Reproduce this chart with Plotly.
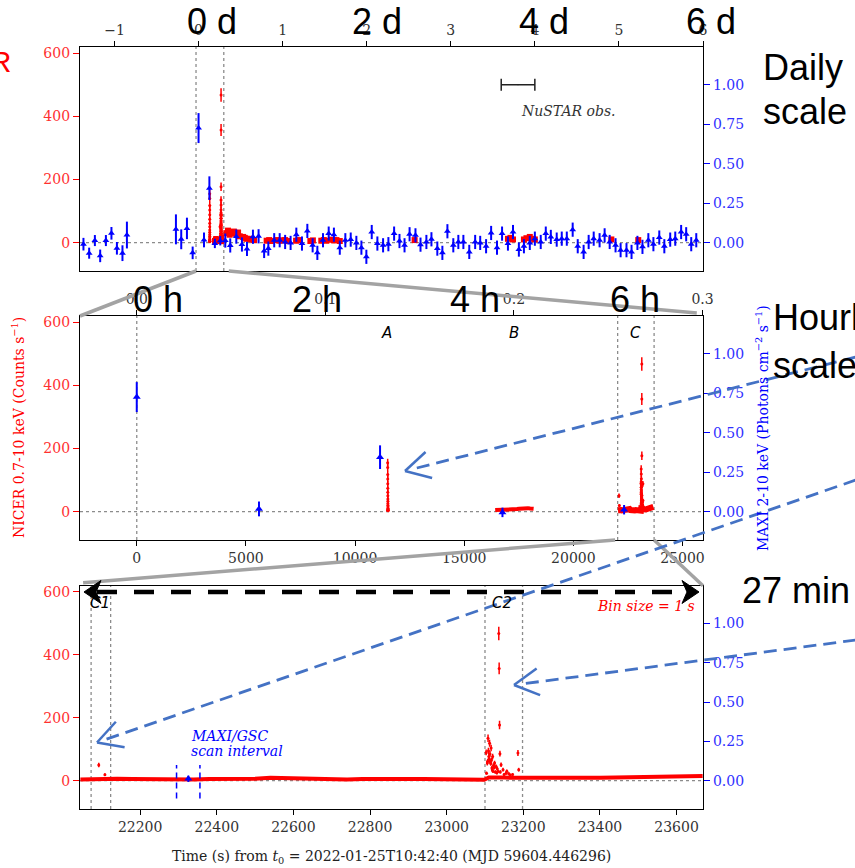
import math
import plotly.graph_objects as go

DAY = 86400.0

# ---------------- data ----------------
# MAXI/GSC 2-10 keV, time in days from t0, flux in photons cm^-2 s^-1
maxi_day = [-1.369, -1.301, -1.233, -1.170, -1.102, -1.036, -0.971, -0.905, -0.852,
            -0.269, -0.206, -0.138, -0.070, 0.000, 0.0648, 0.1290, 0.1939, 0.2584,
            0.318, 0.377, 0.449, 0.516, 0.576, 0.647, 0.714,
            0.78, 0.83, 0.90, 0.965, 1.03, 1.095, 1.163, 1.23, 1.294, 1.357,
            1.413, 1.48, 1.548, 1.61, 1.68, 1.746, 1.81, 1.877, 1.937, 1.996,
            2.06, 2.127, 2.195, 2.258, 2.326, 2.39,
            2.45, 2.51, 2.58, 2.64, 2.71, 2.77, 2.84, 2.90, 2.96, 3.03,
            3.09, 3.15, 3.22, 3.29, 3.35, 3.42, 3.48, 3.55, 3.61, 3.68,
            3.74, 3.81, 3.87, 3.94, 4.00, 4.07, 4.13, 4.19, 4.26, 4.32,
            4.38, 4.45, 4.51, 4.58, 4.64, 4.70, 4.77, 4.83, 4.89, 4.96,
            5.02, 5.09, 5.15, 5.22, 5.28, 5.35, 5.41, 5.48, 5.54, 5.61,
            5.67, 5.74, 5.80, 5.86, 5.92]
maxi_flux = [-0.010, -0.067, 0.013, -0.084, 0.013, 0.059, -0.036, -0.067, 0.048,
             0.084, 0.021, 0.090, -0.065, 0.726, 0.017, 0.345, -0.005, 0.012,
             0.013, -0.018, 0.038, -0.012, -0.040, 0.037, 0.040,
             -0.053, -0.038, 0.015, 0.015, 0.004, -0.002, 0.050, -0.006, 0.074, -0.017,
             -0.065, 0.015, 0.057, 0.050, -0.032, 0.015, 0.019, -0.002, -0.032, -0.090,
             0.067, -0.006, -0.017, -0.010, 0.057, 0.010,
             -0.017, 0.053, 0.046, -0.013, 0.004, 0.021, -0.038, -0.065, 0.072, -0.017,
             0.004, 0.004, -0.059, 0.004, -0.002, -0.023, 0.061, -0.032, 0.057, -0.006,
             0.067, -0.044, -0.023, -0.002, 0.025, 0.004, 0.057, 0.036, 0.019, 0.025,
             0.025, 0.082, -0.023, -0.059, 0.004, 0.025, 0.015, 0.046, 0.004, -0.017,
             -0.048, -0.048, -0.059, -0.002, -0.027, 0.015, -0.010, 0.032, -0.023, 0.019,
             0.025, 0.067, 0.053, -0.010, 0.015]
maxi_err = [0.040, 0.035, 0.035, 0.040, 0.035, 0.040, 0.040, 0.050, 0.085,
            0.095, 0.063, 0.068, 0.040, 0.095, 0.047, 0.075, 0.030, 0.030,
            0.045, 0.045, 0.045, 0.045, 0.045, 0.045, 0.045,
            0.045, 0.045, 0.045, 0.045, 0.045, 0.045, 0.045, 0.045, 0.045, 0.045,
            0.045, 0.045, 0.045, 0.045, 0.045, 0.045, 0.045, 0.045, 0.045, 0.045,
            0.045, 0.045, 0.045, 0.045, 0.045, 0.045,
            0.045, 0.045, 0.045, 0.045, 0.045, 0.045, 0.045, 0.045, 0.045, 0.045,
            0.045, 0.045, 0.045, 0.045, 0.045, 0.045, 0.045, 0.045, 0.045, 0.045,
            0.045, 0.045, 0.045, 0.045, 0.045, 0.045, 0.045, 0.045, 0.045, 0.045,
            0.045, 0.045, 0.045, 0.045, 0.045, 0.045, 0.045, 0.045, 0.045, 0.045,
            0.045, 0.045, 0.045, 0.045, 0.045, 0.045, 0.045, 0.045, 0.045, 0.045,
            0.045, 0.045, 0.045, 0.045, 0.045]
maxi_scan_err = 0.02

# NICER 0.7-10 keV, later GTIs (days, counts/s)
nicer_gti_day = [0.33, 0.35, 0.37, 0.40, 0.42, 0.44, 0.47, 0.49,
                 0.53, 0.55, 0.57, 0.61, 0.63, 0.66, 0.81, 0.84, 0.86,
                 0.93, 0.96, 0.99, 1.03, 1.06, 1.16, 1.19, 1.33, 1.36,
                 1.46, 1.49, 1.52, 1.58, 1.61, 1.64, 1.68, 2.57,
                 3.68, 3.71, 3.74, 3.87, 3.90, 3.94, 3.97, 4.00, 4.91, 5.23]
nicer_gti_rate = [30, 38, 25, 30, 35, 28, 32, 20,
                  18, 15, 12, 12, 10, 8, 6, 8, 5,
                  8, 6, 7, 8, 5, 6, 8, 5, 7,
                  6, 8, 6, 9, 7, 8, 5, 8,
                  12, 15, 10, 10, 14, 18, 12, 10, 10, 8]

# NICER segment A (1-s bins, s from t0)
a_t = [11494, 11495, 11496, 11497, 11498, 11499, 11500, 11501, 11502, 11503,
       11504, 11505, 11506, 11507, 11508, 11509, 11510, 11511, 11512, 11513]
a_rate = [4, 155, 140, 118, 103, 88, 74, 61, 50, 40,
          33, 26, 20, 15, 11, 8, 6, 5, 4, 3]

# NICER segment B (quiescent level)
b_t = [16420, 16520, 16620, 16720, 16820, 16920, 17020, 17120, 17220, 17320,
       17420, 17520, 17620, 17720, 17820, 17920, 18020, 18120, 18180]
b_rate = [5, 5, 6, 5, 6, 6, 7, 6, 7, 8, 8, 9, 10, 12, 13, 11, 10, 10, 9]

# NICER segment C, quiescent level
c_t = [22044, 22070, 22100, 22140, 22180, 22220, 22260, 22300, 22340, 22380,
       22420, 22460, 22500, 22540, 22580, 22620, 22660, 22700, 22740, 22780,
       22820, 22860, 22900, 22940, 22980, 23020, 23060, 23098, 23110, 23130,
       23150, 23170, 23200, 23240, 23280, 23320, 23360, 23400, 23440, 23480,
       23520, 23560, 23600, 23640, 23668]
c_rate = [4, 5, 6, 6, 5, 4, 5, 4, 4, 5,
          5, 6, 6, 9, 8, 5, 4, 5, 4, 5,
          4, 5, 5, 5, 4, 5, 4, 3, 10, 11,
          10, 9, 9, 8, 6, 7, 8, 9, 10, 11,
          14, 13, 14, 15, 15]

# NICER segment C, flare bins (1-s)
cf_t = [22092, 22108, 23103, 23104, 23106, 23107, 23108, 23109, 23110, 23111,
        23112, 23113, 23114, 23115, 23116, 23117, 23118, 23119, 23120, 23121,
        23122, 23124, 23125, 23127, 23129, 23131, 23132, 23134, 23136, 23137,
        23138, 23139, 23140, 23142, 23147, 23150, 23155, 23157, 23162, 23166,
        23172, 23186, 23188]
cf_rate = [50, 19, 90, 24, 56, 62, 135, 95, 77, 70,
           119, 85, 60, 55, 104, 66, 40, 35, 77, 30,
           48, 42, 56, 28, 45, 25, 38, 30, 468, 357,
           177, 86, 28, 51, 35, 20, 24, 30, 22, 18,
           20, 88, 35]

# intervals / ranges
mid_range = [-2600, 25940]
bot_range = [22043, 23669]
c_interval = [22030, 23700]
c1_interval = [22072, 22123]
c2_interval = [23100, 23198]
maxi_scan = [22295, 22356]
nustar = [3.60, 4.00]
nustar_level = 1.0

top_range = [-1.41, 6.0]
nicer_range = [-90, 620]
maxi_range = [-0.18, 1.24]

day_ticks = [-1, 0, 1, 2, 3, 4, 5, 6]
day_ticktext = ['\u22121', '0', '1', '2', '3', '4', '5', '6']
hour_day_ticks = [0.0, 0.1, 0.2, 0.3]
mid_ticks = [0, 5000, 10000, 15000, 20000, 25000]
bot_ticks = [22200, 22400, 22600, 22800, 23000, 23200, 23400, 23600]
nicer_ticks = [0, 200, 400, 600]
maxi_ticks = [0, 0.25, 0.5, 0.75, 1.0]

# ---------------- geometry helpers ----------------
W, H = 855, 868
L, R, T, B = 80, 703, 47, 809


def px(x):
    return (x - L) / (R - L)


def py(y):
    return (B - y) / (B - T)


top_dom = [py(271), 1.0]
mid_dom = [py(540), py(316)]
bot_dom = [0.0, py(585.7)]


def dx(v, rng):
    return (v - rng[0]) / (rng[1] - rng[0])


def dy(v, rng, dom):
    return dom[0] + (v - rng[0]) / (rng[1] - rng[0]) * (dom[1] - dom[0])


RED = '#ff0000'
BLUE = '#0000ff'
SERIF = 'DejaVu Serif'
SANS = 'Liberation Sans'

fig = go.Figure()


def err(vals):
    return [math.sqrt(v) for v in vals]


def red_pts(x, y, xa, ya, size=3, e=None, symbol='circle', thick=1.5):
    d = dict(x=x, y=y, xaxis=xa, yaxis=ya, mode='markers', showlegend=False,
             hoverinfo='skip', marker=dict(color=RED, size=size, symbol=symbol, line=dict(width=0)))
    if e is not None:
        d['error_y'] = dict(type='data', array=e, visible=True, color=RED, thickness=thick, width=0)
    fig.add_trace(go.Scatter(**d))


def red_line(x, y, xa, ya, w):
    fig.add_trace(go.Scatter(x=x, y=y, xaxis=xa, yaxis=ya, mode='lines', showlegend=False,
                             hoverinfo='skip', line=dict(color=RED, width=w)))


def blue_pts(x, y, e, xa, ya, size=6):
    fig.add_trace(go.Scatter(x=x, y=y, xaxis=xa, yaxis=ya, mode='markers', showlegend=False,
                             hoverinfo='skip',
                             marker=dict(color=BLUE, size=size, symbol='triangle-up', line=dict(width=0)),
                             error_y=dict(type='data', array=e, visible=True, color=BLUE,
                                          thickness=2, width=0)))


# ---------------- top panel (days) ----------------
red_pts(nicer_gti_day, nicer_gti_rate, 'x', 'y', size=6, symbol='square')
red_pts([t / DAY for t in b_t], b_rate, 'x', 'y', size=5, symbol='square')
red_pts([t / DAY for t in c_t], c_rate, 'x', 'y', size=5, symbol='square')
red_pts([t / DAY for t in a_t], a_rate, 'x', 'y', size=3, e=err(a_rate))
red_pts([t / DAY for t in cf_t], cf_rate, 'x', 'y', size=3, e=err(cf_rate))
blue_pts(maxi_day, maxi_flux, maxi_err, 'x', 'y2', size=6)
# NuSTAR observation bar
fig.add_trace(go.Scatter(x=[(nustar[0] + nustar[1]) / 2], y=[nustar_level], xaxis='x', yaxis='y2',
                         mode='markers', showlegend=False, hoverinfo='skip',
                         marker=dict(size=1, color='#222222'),
                         error_x=dict(type='constant', value=(nustar[1] - nustar[0]) / 2, visible=True,
                                      color='#222222', thickness=1.5, width=6)))

# ---------------- middle panel (seconds) ----------------
red_pts(a_t, a_rate, 'x2', 'y3', size=3, e=err(a_rate))
red_line(b_t, b_rate, 'x2', 'y3', 4)
red_line(c_t, c_rate, 'x2', 'y3', 6)
red_pts(cf_t, cf_rate, 'x2', 'y3', size=3, e=err(cf_rate))
mid_idx = [i for i, d in enumerate(maxi_day) if mid_range[0] <= d * DAY <= mid_range[1]]
blue_pts([maxi_day[i] * DAY for i in mid_idx], [maxi_flux[i] for i in mid_idx],
         [maxi_err[i] for i in mid_idx], 'x2', 'y4', size=7)
# dummy trace for the top (days) axis of the middle panel
fig.add_trace(go.Scatter(x=[mid_range[0] / DAY], y=[None], xaxis='x3', yaxis='y3', mode='markers',
                         showlegend=False, hoverinfo='skip'))

# ---------------- bottom panel (seconds) ----------------
red_line(c_t, c_rate, 'x4', 'y5', 4)
red_pts(cf_t, cf_rate, 'x4', 'y5', size=3, e=err(cf_rate))
bot_idx = [i for i, d in enumerate(maxi_day) if bot_range[0] <= d * DAY <= bot_range[1]]
blue_pts([maxi_day[i] * DAY for i in bot_idx], [maxi_flux[i] for i in bot_idx],
         [maxi_scan_err for i in bot_idx], 'x4', 'y6', size=7)

# ---------------- axes ----------------
tickfont = dict(family=SERIF, size=14, color='#333333')
common_x = dict(showgrid=False, zeroline=False, showline=True, linecolor='black', linewidth=1.3,
                ticks='outside', ticklen=5, tickwidth=1.2, tickcolor='black', tickfont=tickfont)
ly = dict(showgrid=False, zeroline=False, showline=True, linecolor='black', linewidth=1.3,
          ticks='outside', ticklen=6, tickwidth=1.2, tickcolor=RED, range=nicer_range,
          tickvals=nicer_ticks, tickfont=dict(family=SERIF, size=14, color='#ff3030'))
ry = dict(showgrid=False, zeroline=False, showline=True, linecolor='black', linewidth=1.3,
          ticks='outside', ticklen=6, tickwidth=1.2, tickcolor=BLUE, range=maxi_range,
          tickvals=maxi_ticks, tickformat='.2f', side='right',
          tickfont=dict(family=SERIF, size=14, color='#3030ff'))

fig.update_layout(
    xaxis=dict(common_x, domain=[0, 1], anchor='y', side='top', range=top_range, mirror=True,
               tickvals=day_ticks, ticktext=day_ticktext),
    yaxis=dict(ly, domain=top_dom, anchor='x'),
    yaxis2=dict(ry, overlaying='y', anchor='x'),
    xaxis2=dict(common_x, domain=[0, 1], anchor='y3', range=mid_range, mirror=True,
                tickvals=mid_ticks, tickformat='d'),
    xaxis3=dict(common_x, overlaying='x2', anchor='y3', side='top', showline=False,
                range=[mid_range[0] / DAY, mid_range[1] / DAY], tickvals=hour_day_ticks,
                tickformat='.1f'),
    yaxis3=dict(ly, domain=mid_dom, anchor='x2'),
    yaxis4=dict(ry, overlaying='y3', anchor='x2'),
    xaxis4=dict(common_x, domain=[0, 1], anchor='y5', range=bot_range, mirror=True,
                tickvals=bot_ticks, tickformat='d'),
    yaxis5=dict(ly, domain=bot_dom, anchor='x4'),
    yaxis6=dict(ry, overlaying='y5', anchor='x4'),
)

# ---------------- shapes ----------------
shapes = []
DOT = dict(color='#8c8c8c', width=1.3, dash='dot')
for yref in ['y', 'y3', 'y5']:
    shapes.append(dict(type='line', xref='paper', yref=yref, x0=0, x1=1, y0=0, y1=0,
                       line=DOT, layer='below'))
for v in mid_range:
    shapes.append(dict(type='line', xref='x', yref='y domain', x0=v / DAY, x1=v / DAY, y0=0, y1=1,
                       line=DOT, layer='below'))
for v in [0] + c_interval:
    shapes.append(dict(type='line', xref='x2', yref='y3 domain', x0=v, x1=v, y0=0, y1=1,
                       line=DOT, layer='below'))
for v in c1_interval + c2_interval:
    shapes.append(dict(type='line', xref='x4', yref='y5 domain', x0=v, x1=v, y0=0, y1=1,
                       line=DOT, layer='below'))
for v in maxi_scan:
    shapes.append(dict(type='line', xref='x4', yref='y5', x0=v, x1=v, y0=-57, y1=50,
                       line=dict(color=BLUE, width=1.5, dash='6px,4px')))

# zoom connector lines
GRAY = dict(color='#a3a3a3', width=3.5)
shapes.append(dict(type='line', xref='paper', yref='paper',
                   x0=dx(mid_range[0] / DAY, top_range), y0=top_dom[0], x1=0, y1=mid_dom[1], line=GRAY))
shapes.append(dict(type='line', xref='paper', yref='paper',
                   x0=dx(mid_range[1] / DAY, top_range) + 0.008, y0=top_dom[0], x1=0.99, y1=mid_dom[1] + 0.004,
                   line=GRAY))
shapes.append(dict(type='line', xref='paper', yref='paper',
                   x0=dx(c_interval[0], mid_range) - 0.004, y0=mid_dom[0], x1=0.005, y1=bot_dom[1] + 0.004,
                   line=GRAY))
shapes.append(dict(type='line', xref='paper', yref='paper',
                   x0=dx(c_interval[1], mid_range), y0=mid_dom[0], x1=1.0, y1=bot_dom[1], line=GRAY))

# black dashed double arrow (27 min span) at the 600 counts/s level of the bottom panel
arr_y = B - (dy(600, nicer_range, bot_dom)) * (B - T)  # pixel y
shapes.append(dict(type='line', xref='paper', yref='y5', x0=px(97), x1=px(686), y0=600, y1=600,
                   line=dict(color='black', width=4.5, dash='20px,17px')))


def path_px(pts):
    s = 'M ' + ' L '.join('%.5f,%.5f' % (px(a), py(b)) for a, b in pts) + ' Z'
    return s


for tip, sgn in [(84, 1), (699, -1)]:
    pts = [(tip, arr_y), (tip + sgn * 17, arr_y - 11.5), (tip + sgn * 12, arr_y),
           (tip + sgn * 17, arr_y + 11.5)]
    shapes.append(dict(type='path', xref='paper', yref='paper', path=path_px(pts),
                       fillcolor='black', line=dict(color='black', width=1)))

# blue dashed pointer arrows (open heads)
ABLUE = '#4472C4'
for tail, tip in [((856, 357), (405, 471)), ((856, 480), (97, 742.5)), ((856, 640), (514, 685))]:
    slope = (tail[1] - tip[1]) / (tail[0] - tip[0])
    shapes.append(dict(type='line', xref='paper', yref='paper', x0=px(tail[0]), y0=py(tail[1]),
                       x1=px(tip[0] + 6), y1=py(tip[1] + 6 * slope),
                       line=dict(color=ABLUE, width=2.8, dash='13px,7px')))
    ang = math.atan2(tail[1] - tip[1], tail[0] - tip[0])
    for da in (-0.5, 0.5):
        a = ang + da
        shapes.append(dict(type='line', xref='paper', yref='paper', x0=px(tip[0]), y0=py(tip[1]),
                           x1=px(tip[0] + 28 * math.cos(a)), y1=py(tip[1] + 28 * math.sin(a)),
                           line=dict(color=ABLUE, width=2.5)))

fig.update_layout(shapes=shapes)

# ---------------- annotations ----------------
ann = []


def txt(text, x, y, size, color='black', family=SANS, xanchor='left', yanchor='middle', angle=0):
    ann.append(dict(text=text, x=px(x), y=py(y), xref='paper', yref='paper', showarrow=False,
                    xanchor=xanchor, yanchor=yanchor, textangle=angle,
                    font=dict(size=size, color=color, family=family)))


for s, x in [('0 d', 185), ('2 d', 350), ('4 d', 517), ('6 d', 684)]:
    txt(s, x, 22, 36)
for s, x in [('0 h', 131), ('2 h', 290), ('4 h', 448), ('6 h', 608)]:
    txt(s, x, 299, 36)
txt('Daily', 761, 67, 36)
txt('scale', 761, 111, 36)
txt('Hourly', 771, 317, 36)
txt('scale', 771, 366, 36)
txt('27 min', 740, 590, 36)
txt('NICER', 13, 62, 30, color=RED, xanchor='right')

txt('<i>NuSTAR obs.</i>', 568, 111, 14, color='#333333', family=SERIF, xanchor='center')
for s, t in [('A', 11457), ('B', 17291), ('C', 22868)]:
    ann.append(dict(text='<i>%s</i>' % s, x=t, y=567, xref='x2', yref='y3', showarrow=False,
                    xanchor='center', yanchor='middle', font=dict(size=15, color='black', family='DejaVu Sans')))
txt('<i>C1</i>', 100, 603, 15, family='DejaVu Sans', xanchor='center')
txt('<i>C2</i>', 502, 603, 15, family='DejaVu Sans', xanchor='center')
txt('<i>Bin size = 1 s</i>', 697, 606, 14, color=RED, family=SERIF, xanchor='right')
txt('<i>MAXI/GSC</i>', 189, 736, 14, color=BLUE, family=SERIF)
txt('<i>scan interval</i>', 189, 751, 14, color=BLUE, family=SERIF)

txt('NICER 0.7-10 keV (Counts s<sup>\u22121</sup>)', 18, 428, 14, color=RED, family=SERIF,
    xanchor='center', angle=-90)
txt('MAXI 2-10 keV (Photons cm<sup>\u22122</sup> s<sup>\u22121</sup>)', 762, 428, 14, color=BLUE,
    family=SERIF, xanchor='center', angle=-90)
txt('Time (s) from <i>t</i><sub>0</sub> = 2022-01-25T10:42:40 (MJD 59604.446296)', 391, 857, 14,
    color='#222222', family=SERIF, xanchor='center')

fig.update_layout(annotations=ann)

fig.update_layout(width=W, height=H, autosize=False,
                  margin=dict(l=L, r=W - R, t=T, b=H - B, pad=0),
                  paper_bgcolor='white', plot_bgcolor='white', showlegend=False)

fig.write_html('out.html', config={'displayModeBar': False},
               post_script="document.body.style.margin='0px';document.body.style.overflow='hidden';")
